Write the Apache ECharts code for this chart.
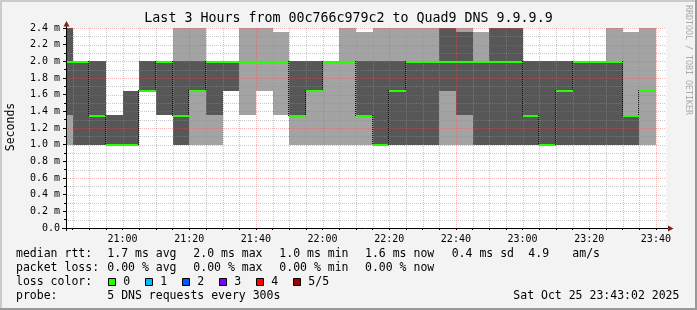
<!DOCTYPE html>
<html><head><meta charset="utf-8">
<script src="https://cdn.jsdelivr.net/npm/echarts@6/dist/echarts.min.js"></script>
<style>html,body{margin:0;padding:0;background:#f3f3f3}#c{width:697px;height:310px}</style>
</head><body><div id="c"></div>
<script>
// ---- data (5 pings per 300 s step, sorted, in ms) ----
const intervalStarts = ['20:40','20:45','20:50','20:55','21:00','21:05','21:10','21:15','21:20','21:25','21:30','21:35','21:40','21:45','21:50','21:55','22:00','22:05','22:10','22:15','22:20','22:25','22:30','22:35','22:40','22:45','22:50','22:55','23:00','23:05','23:10','23:15','23:20','23:25','23:30','23:35'];
const ping1 = [1.0,1.0,1.0,1.0,1.0,1.65,1.35,1.0,1.0,1.0,1.65,1.35,1.65,1.35,1.0,1.0,1.0,1.0,1.0,1.0,1.0,1.0,1.0,1.0,1.0,1.0,1.0,1.0,1.0,1.0,1.0,1.0,1.0,1.0,1.0,1.0];
const ping2 = [1.35,1.0,1.0,1.0,1.0,1.65,1.35,1.0,1.65,1.35,1.65,2.0,2.0,2.0,1.35,1.65,2.0,2.0,1.35,1.0,1.0,1.0,1.0,1.65,1.35,1.0,1.0,1.0,1.0,1.0,1.0,1.0,1.0,1.0,1.0,1.65];
const medianRtt = [2.0,2.0,1.35,1.0,1.0,1.65,2.0,1.35,1.65,2.0,2.0,2.0,2.0,2.0,1.35,1.65,2.0,2.0,1.35,1.0,1.65,2.0,2.0,2.0,2.0,2.0,2.0,2.0,1.35,1.0,1.65,2.0,2.0,2.0,1.35,1.65];
const ping4 = [2.65,2.0,2.0,1.35,1.65,2.0,2.0,2.0,2.0,2.0,2.0,2.0,2.0,2.0,2.0,2.0,2.0,2.0,2.0,2.0,2.0,2.0,2.0,2.65,2.35,2.0,2.65,2.65,2.0,2.0,2.0,2.0,2.0,2.0,1.35,1.65];
const ping5 = [2.65,2.0,2.0,1.35,1.65,2.0,2.0,2.65,2.65,2.0,2.0,2.65,2.65,2.35,2.0,2.0,2.0,2.65,2.35,2.65,2.65,2.65,2.65,2.65,2.65,2.35,2.65,2.65,2.0,2.0,2.0,2.0,2.0,2.65,2.35,2.65];
const xTickLabels = ['21:00','21:20','21:40','22:00','22:20','22:40','23:00','23:20','23:40'];
const yTickValues = [0,0.2,0.4,0.6,0.8,1.0,1.2,1.4,1.6,1.8,2.0,2.2,2.4];
const axisStart = '20:43:02', axisEnd = '23:43:02';
const stepMin = 5;
const lossColors = [['0','#26ff00'],['1','#00b8ff'],['2','#0059ff'],['3','#7e00ff'],['4','#ff0000'],['5/5','#a00000']];

function toMin(s){const p=s.split(':').map(Number);return p[0]*60+p[1]+(p[2]||0)/60;}
function fmt(m){const h=Math.floor(m/60),mm=Math.round(m-h*60);return h+':'+String(mm).padStart(2,'0');}

const xMin = toMin(axisStart), xMax = toMin(axisEnd);
const majorX = xTickLabels.map(toMin);
const minorX = [];
for (let m = Math.ceil(xMin/stepMin)*stepMin; m < xMax; m += stepMin) minorX.push(m);
const yMax = yTickValues[yTickValues.length-1];

const smokeData = intervalStarts.map((t,i)=>[toMin(t), ping1[i], ping2[i], medianRtt[i], ping4[i], ping5[i], i>0?medianRtt[i-1]:medianRtt[i]]);

const gridData = [];
minorX.forEach(v=>gridData.push([v, 0, 0, majorX.indexOf(v)>=0?1:0]));
for (let k=1;k<=24;k++){ const v=k/10; gridData.push([xMin, v, 1, (k%2===0)?1:0]); }

const MONO = '"DejaVu Sans Mono", monospace';
const cssRect = cs => ({x:cs.x,y:cs.y,width:cs.width,height:cs.height});

function boxRect(api, cs, x0, x1, lo, hi){
  const a = api.coord([x0, hi]), b = api.coord([x1, lo]);
  const l = Math.round(a[0]), r = Math.round(b[0]);
  const t = Math.round(a[1]), bt = Math.round(b[1]);
  if (bt - t <= 0) return null;
  return echarts.graphic.clipRectByRect({x:l,y:t,width:r-l,height:bt-t}, cssRect(cs));
}

function renderSmoke(params, api){
  const cs = params.coordSys;
  const x0 = api.value(0), x1 = x0 + stepMin;
  const children = [];
  const light = boxRect(api, cs, x0, x1, api.value(1), api.value(5));
  if (light) children.push({type:'rect', shape:light, style:{fill:'#a3a3a3'}});
  const dark = boxRect(api, cs, x0, x1, api.value(2), api.value(4));
  if (dark) children.push({type:'rect', shape:dark, style:{fill:'#575757'}});
  return {type:'group', children};
}

function renderMedian(params, api){
  const cs = params.coordSys;
  const x0 = api.value(0), x1 = x0 + stepMin, med = api.value(3), prev = api.value(6);
  const a = api.coord([x0, med]), b = api.coord([x1, med]);
  const children = [];
  const l = Math.max(Math.round(a[0]), cs.x), r = Math.round(b[0]);
  if (prev !== med && a[0] >= cs.x) {
    const py = api.coord([x0, prev])[1];
    const xx = Math.round(a[0]) - 0.5;
    children.push({type:'line', shape:{x1:xx, y1:Math.floor(Math.min(py,a[1])), x2:xx, y2:Math.floor(Math.max(py,a[1]))+1}, style:{stroke:'#111', lineWidth:1, lineDash:[1,1]}});
  }
  children.push({type:'rect', shape:{x:l, y:Math.floor(a[1]), width:r-l, height:2}, style:{fill:lossColors[0][1]}});
  return {type:'group', children};
}

function renderGrid(params, api){
  const cs = params.coordSys;
  const horiz = api.value(2) === 1, major = api.value(3) === 1;
  const stroke = major ? 'rgba(230,80,80,0.42)' : 'rgba(143,143,143,0.5)';
  let shape;
  if (!horiz) {
    const x = Math.round(api.coord([api.value(0), 0])[0]) + 0.5;
    shape = {x1:x, y1:cs.y, x2:x, y2:cs.y+cs.height};
  } else {
    const y = Math.round(api.coord([xMin, api.value(1)])[1]) + 0.5;
    shape = {x1:cs.x, y1:y, x2:cs.x+cs.width, y2:y};
  }
  return {type:'line', shape, style:{stroke, lineWidth:1, lineDash:[1,1]}};
}

const chart = echarts.init(document.getElementById('c'), null, {renderer:'canvas'});
const T = (text, x, y, extra) => Object.assign({type:'text', x, y, silent:true, style:Object.assign({text, fill:'#000', font:'11.5px '+MONO, align:'left', verticalAlign:'middle', textAlign:'left', textVerticalAlign:'middle'}, extra||{})});

const graphics = [
  // frame
  {type:'rect', shape:{x:0,y:0,width:697,height:2}, style:{fill:'#cbcbcb'}, silent:true},
  {type:'rect', shape:{x:0,y:0,width:2,height:310}, style:{fill:'#cbcbcb'}, silent:true},
  {type:'rect', shape:{x:0,y:308,width:697,height:2}, style:{fill:'#999999'}, silent:true},
  {type:'rect', shape:{x:695,y:0,width:2,height:310}, style:{fill:'#999999'}, silent:true},
  // title & side labels
  T('Last 3 Hours from 00c766c979c2 to Quad9 DNS 9.9.9.9', 348.5, 19, {font:'13.3px '+MONO, align:'center', textAlign:'center'}),
  Object.assign(T('Seconds', 11, 127, {align:'center', textAlign:'center'}), {rotation:Math.PI/2}),
  Object.assign(T('RRDTOOL / TOBI OETIKER', 688.5, 60, {font:'8.3px '+MONO, fill:'#aaaaaa', align:'center', textAlign:'center'}), {rotation:-Math.PI/2}),
  // axis extensions and arrows
  {type:'line', shape:{x1:62, y1:228.5, x2:669, y2:228.5}, style:{stroke:'#000', lineWidth:1}, silent:true, z:100},
  {type:'line', shape:{x1:66.5, y1:231, x2:66.5, y2:25}, style:{stroke:'#000', lineWidth:1}, silent:true, z:100},
  {type:'polygon', shape:{points:[[668,225.5],[673.5,228.5],[668,231.5]]}, style:{fill:'#7f1f1f'}, silent:true, z:101},
  {type:'polygon', shape:{points:[[63.5,26.5],[66.5,21],[69.5,26.5]]}, style:{fill:'#7f1f1f'}, silent:true, z:101},
  // legend
  T('median rtt:', 16, 254.5), T('1.7 ms avg', 107.3, 254.5), T('2.0 ms max', 193.3, 254.5), T('1.0 ms min', 279.3, 254.5),
  T('1.6 ms now', 365, 254.5), T('0.4 ms sd', 451.7, 254.5), T('4.9', 528.3, 254.5), T('am/s', 572.3, 254.5),
  T('packet loss:', 16, 268.5), T('0.00 % avg', 107.3, 268.5), T('0.00 % max', 193.3, 268.5), T('0.00 % min', 279.3, 268.5), T('0.00 % now', 365, 268.5),
  T('loss color:', 16, 282.5),
  T('probe:', 16, 296.3), T('5 DNS requests every 300s', 107.3, 296.3), T('Sat Oct 25 23:43:02 2025', 513.3, 296.3)
];
lossColors.forEach((lc, i) => {
  const bx = 108 + i*37;
  graphics.push({type:'rect', shape:{x:bx+0.5, y:278.5, width:7, height:7}, style:{fill:lc[1], stroke:'#000', lineWidth:1}, silent:true});
  graphics.push(T(lc[0], bx + 15.3, 282.5));
});

chart.setOption({
  animation:false,
  backgroundColor:'#f3f3f3',
  grid:{left:66, right:31, top:28, bottom:82, show:true, backgroundColor:'#ffffff', borderWidth:0},
  xAxis:{type:'value', min:xMin, max:xMax, z:10,
    axisLine:{show:false},
    axisTick:{show:true, length:2, customValues:minorX, lineStyle:{color:'#000'}},
    axisLabel:{customValues:majorX, formatter:v=>fmt(v), margin:6, color:'#000', fontFamily:'DejaVu Sans Mono', fontSize:10},
    splitLine:{show:false}},
  yAxis:{type:'value', min:0, max:yMax, interval:0.2, z:10,
    axisLine:{show:false},
    axisTick:{show:true, length:3, lineStyle:{color:'#000'}},
    minorTick:{show:true, splitNumber:2, length:2, lineStyle:{color:'#000'}},
    axisLabel:{margin:6, color:'#000', fontFamily:'DejaVu Sans Mono', fontSize:10, formatter:v=> v===0 ? '0.0' : v.toFixed(1)+' m'},
    splitLine:{show:false}},
  graphic:graphics,
  series:[
    {type:'custom', name:'smoke', renderItem:renderSmoke, data:smokeData, silent:true, encode:{x:0, y:[1,2,3,4,5]}},
    {type:'custom', name:'grid', renderItem:renderGrid, data:gridData, silent:true, encode:{x:0, y:1}},
    {type:'custom', name:'median', renderItem:renderMedian, data:smokeData, silent:true, encode:{x:0, y:3}}
  ]
});
</script></body></html>
